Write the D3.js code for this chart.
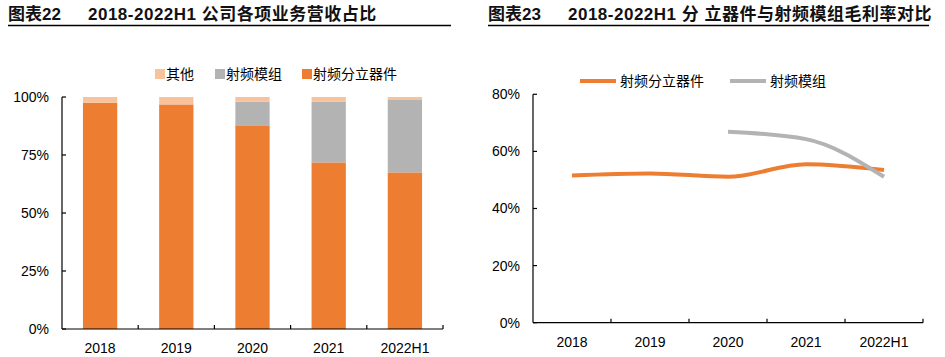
<!DOCTYPE html>
<html><head><meta charset="utf-8">
<script src="https://cdn.jsdelivr.net/npm/d3@7"></script>
<style>
body{margin:0;background:#fff;}
svg text{font-family:"Liberation Sans","Noto Sans CJK SC",sans-serif;}
</style></head>
<body><svg id="c" width="945" height="357"></svg>
<script>
const categories = ["2018","2019","2020","2021","2022H1"];
// chart 1: revenue share (%)
const shareDiscrete = [97.5, 96.8, 87.8, 71.8, 67.5];
const shareModule   = [0, 0, 10.2, 26.2, 31.2];
const shareOther    = [2.5, 3.2, 2.0, 2.0, 1.3];
const shareTicks = [0, 25, 50, 75, 100];
// chart 2: gross margin (%)
const marginDiscrete = [51.6, 52.3, 51.1, 55.5, 53.5];
const marginModule   = [null, null, 66.9, 64.3, 51.1];
const marginTicks = [0, 20, 40, 60, 80];

const C_OR = "#ED7D31", C_GR = "#B3B3B3", C_PE = "#F8C39B";
const svg = d3.select("#c");

function title(x0, x1, label, text, ls){
  const g = svg.append("g");
  g.append("text").attr("x", x0).attr("y", 20).attr("font-size", 17).attr("font-weight", "bold")
    .attr("fill","#111").text(label);
  g.append("text").attr("x", x0+80).attr("y", 20).attr("font-size", 17).attr("font-weight", "bold")
    .attr("letter-spacing", ls).attr("fill","#111").text(text);
  g.append("line").attr("x1", x0).attr("x2", x1).attr("y1", 25.5).attr("y2", 25.5)
    .attr("stroke", "#000").attr("stroke-width", 1.3);
}
title(8, 451, "图表22", "2018-2022H1 公司各项业务营收占比", 0.5);
title(488, 929, "图表23", "2018-2022H1 分 立器件与射频模组毛利率对比", 0.5);

function axes(g, x, y, ticks, x0, x1, y0, y1){
  g.append("line").attr("x1", x0).attr("x2", x0).attr("y1", y0).attr("y2", y1).attr("stroke","#000").attr("stroke-width",1.2);
  ticks.forEach(t=>{
    g.append("line").attr("x1", x0).attr("x2", x0+4).attr("y1", y(t)).attr("y2", y(t)).attr("stroke","#000").attr("stroke-width",1.2);
    g.append("text").attr("x", x0-13).attr("y", y(t)).attr("dy","0.35em").attr("text-anchor","end")
      .attr("font-size", 14).attr("fill","#000").text(t + "%");
  });
  g.append("line").attr("x1", x0).attr("x2", x1).attr("y1", y0).attr("y2", y0).attr("stroke","#000").attr("stroke-width",1.2);
  categories.forEach((c,i)=>{
    const bx = x(c) + x.bandwidth();
    g.append("line").attr("x1", bx).attr("x2", bx).attr("y1", y0).attr("y2", y0-4).attr("stroke","#000").attr("stroke-width",1.2);
    g.append("text").attr("x", x(c)+x.bandwidth()/2).attr("y", y0+24).attr("text-anchor","middle")
      .attr("font-size", 14).attr("fill","#000").text(c);
  });
}

// ---- Chart 1 ----
{
  const x = d3.scaleBand().domain(categories).range([62, 443]);
  const y = d3.scaleLinear().domain([0, 100]).range([329, 97]);
  const g = svg.append("g");
  const rows = categories.map((c,i)=>({cat:c, discrete:shareDiscrete[i], module:shareModule[i], other:shareOther[i]}));
  const stack = d3.stack().keys(["discrete","module","other"])(rows);
  const colors = {discrete:C_OR, module:C_GR, other:C_PE};
  const bw = x.bandwidth()*0.45;
  stack.forEach(s=>{
    g.selectAll(null).data(s).enter().append("rect")
      .attr("x", d=> x(d.data.cat) + (x.bandwidth()-bw)/2)
      .attr("y", d=> y(d[1]))
      .attr("width", bw)
      .attr("height", d=> Math.max(0, y(d[0]) - y(d[1])))
      .attr("fill", colors[s.key]);
  });
  axes(g, x, y, shareTicks, 62, 443, 329, 97);
  const leg = [["其他", C_PE, 155], ["射频模组", C_GR, 215], ["射频分立器件", C_OR, 302]];
  leg.forEach(([t,c,lx])=>{
    g.append("rect").attr("x", lx).attr("y", 69).attr("width", 10).attr("height", 10).attr("fill", c);
    g.append("text").attr("x", lx+11).attr("y", 74.5).attr("dy","0.35em").attr("font-size", 14).attr("fill","#000").text(t);
  });
}

// ---- Chart 2 ----
{
  const x = d3.scaleBand().domain(categories).range([533, 923]);
  const y = d3.scaleLinear().domain([0, 80]).range([322.7, 94.3]);
  const g = svg.append("g");
  const line = d3.line().x(d=>x(d.c)+x.bandwidth()/2).y(d=>y(d.v)).curve(d3.curveMonotoneX);
  const dOr = categories.map((c,i)=>({c, v:marginDiscrete[i]}));
  const dGr = categories.map((c,i)=>({c, v:marginModule[i]})).filter(d=>d.v!=null);
  g.append("path").attr("d", line(dOr)).attr("fill","none").attr("stroke", C_OR).attr("stroke-width", 4);
  g.append("path").attr("d", line(dGr)).attr("fill","none").attr("stroke", C_GR).attr("stroke-width", 4);
  axes(g, x, y, marginTicks, 533, 923, 322.7, 94.3);
  const leg = [["射频分立器件", C_OR, 580], ["射频模组", C_GR, 730]];
  leg.forEach(([t,c,lx])=>{
    g.append("line").attr("x1", lx).attr("x2", lx+36).attr("y1", 81).attr("y2", 81).attr("stroke", c).attr("stroke-width", 4);
    g.append("text").attr("x", lx+40).attr("y", 81).attr("dy","0.35em").attr("font-size", 14).attr("fill","#000").text(t);
  });
}
</script></body></html>
